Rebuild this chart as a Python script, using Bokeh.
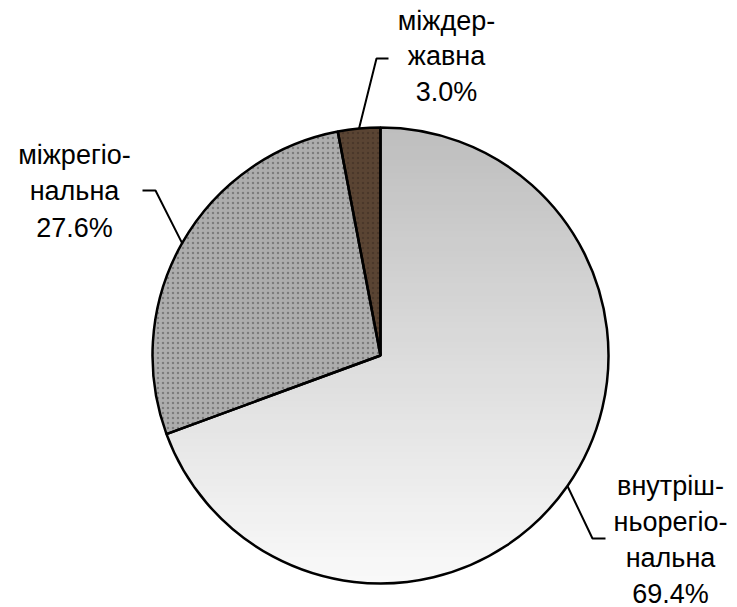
import numpy as np
from bokeh.plotting import figure
from bokeh.models import Range1d
from bokeh.core.properties import value
from bokeh.embed import file_html
from bokeh.resources import INLINE

# ---- data ----
categories = ["внутрішньорегіональна", "міжрегіональна", "міждержавна"]
shares = [69.4, 27.6, 3.0]
label_lines = [["внутріш-", "ньорегіо-", "нальна"],
               ["міжрегіо-", "нальна"],
               ["міждер-", "жавна"]]

# ---- styling / layout ----
W, H = 737, 607
FONT = "Liberation Sans"
FS = 27
TEXT_SHIFT = 9  # renderer places alphabetic baseline lower than requested

def P(xs, ys):
    """picture pixel -> data coordinates"""
    return (float(xs), H - float(ys))

cx, cy = P(380, 355)
R = 228

p = figure(width=W, height=H, x_range=Range1d(0, W), y_range=Range1d(0, H),
           output_backend="svg", toolbar_location=None, min_border=0)
p.axis.visible = False
p.grid.visible = False
p.outline_line_color = None
p.background_fill_color = "white"

vals = np.array(shares, dtype=float)
fr = vals / vals.sum()
cum = np.concatenate([[0], np.cumsum(fr)])
starts = np.pi / 2 - 2 * np.pi * cum[:-1]
ends = np.pi / 2 - 2 * np.pi * cum[1:]
mids = (starts + ends) / 2

# slice 1: vertical gradient approximated with horizontal bands
def wedge_poly(a0, a1, n=240):
    t = np.linspace(a0, a1, n)
    xs = np.concatenate([[cx], cx + R * np.cos(t)])
    ys = np.concatenate([[cy], cy + R * np.sin(t)])
    return list(zip(xs, ys))

def clip(poly, y0, keep_above):
    out = []
    n = len(poly)
    for i in range(n):
        a = poly[i]; b = poly[(i + 1) % n]
        ina = (a[1] >= y0) if keep_above else (a[1] <= y0)
        inb = (b[1] >= y0) if keep_above else (b[1] <= y0)
        if ina:
            out.append(a)
        if ina != inb:
            t = (y0 - a[1]) / (b[1] - a[1])
            out.append((a[0] + t * (b[0] - a[0]), y0))
    return out

poly1 = wedge_poly(starts[0], ends[0])
nb = 70
top_c = np.array([190, 190, 190]); bot_c = np.array([250, 250, 250])
bx, by, bc = [], [], []
for i in range(nb):
    yhi = cy + R - i * (2 * R / nb)
    ylo = yhi - (2 * R / nb) - 0.6
    pp = clip(clip(poly1, ylo, True), yhi + 0.6, False)
    if len(pp) >= 3:
        f = (i + 0.5) / nb
        c = (top_c + (bot_c - top_c) * f).astype(int)
        bx.append([q[0] for q in pp]); by.append([q[1] for q in pp])
        bc.append("#%02x%02x%02x" % tuple(c))
p.patches(bx, by, fill_color=bc, line_color=None)

# slice 2: granite-ish, slice 3: dark brown
p.wedge(x=cx, y=cy, radius=R, start_angle=starts[1], end_angle=ends[1], direction="clock",
        fill_color="#adadad", line_color=None,
        hatch_pattern="dot", hatch_color="#666666", hatch_scale=5, hatch_weight=1.6, hatch_alpha=0.7)
p.wedge(x=cx, y=cy, radius=R, start_angle=starts[2], end_angle=ends[2], direction="clock",
        fill_color="#5a4433", line_color=None,
        hatch_pattern="dot", hatch_color="#3a2a20", hatch_scale=5, hatch_weight=1.6, hatch_alpha=0.5)

# outlines
p.wedge(x=[cx] * 3, y=[cy] * 3, radius=R, start_angle=starts, end_angle=ends, direction="clock",
        fill_color=None, line_color="black", line_width=2.5)

# leader lines (elbow and end positions in picture pixels)
elbows = [((592, 538), (605, 538)), ((155, 190), (142, 190)), ((376, 58), (388, 58))]
for k in range(3):
    ex = cx + R * np.cos(mids[k]); ey = cy + R * np.sin(mids[k])
    (e1, e2) = elbows[k]
    x1, y1 = P(*e1); x2, y2 = P(*e2)
    p.line([ex, x1, x2], [ey, y1, y2], line_color="black", line_width=2)

# labels: one text per line, alphabetic baselines
label_anchor = [(670, 494, 36.0), (74, 163, 36.5), (446, 29, 35.5)]   # x, first baseline, spacing
tx, ty, tt = [], [], []
for k in range(3):
    lines = label_lines[k] + ["%.1f%%" % shares[k]]
    x0, y0, dy = label_anchor[k]
    for j, s in enumerate(lines):
        X, Y = P(x0, y0 + j * dy - TEXT_SHIFT)
        tx.append(X); ty.append(Y); tt.append(s)
p.text(x=tx, y=ty, text=tt, text_font=value(FONT), text_font_size="%dpx" % FS,
       text_align="center", text_baseline="alphabetic", text_color="black")

open("out.html", "w").write(file_html(p, INLINE))
